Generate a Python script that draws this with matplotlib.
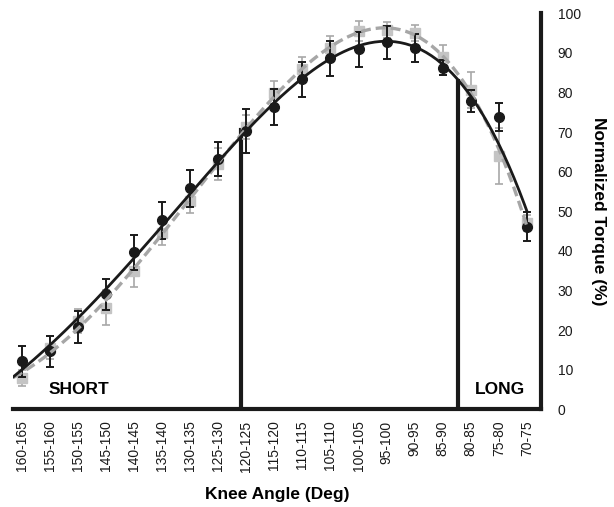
import matplotlib.pyplot as plt
import numpy as np

plt.rcParams["font.family"] = ["Liberation Sans", "DejaVu Sans"]

# knee angle bins, shortest muscle length first
angles = ["160-165", "155-160", "150-155", "145-150", "140-145", "135-140",
          "130-135", "125-130", "120-125", "115-120", "110-115", "105-110",
          "100-105", "95-100", "90-95", "85-90", "80-85", "75-80", "70-75"]

# black circles (solid trendline)
black_mean = [12.1, 14.6, 20.7, 29.0, 39.6, 47.7, 55.8, 63.1, 70.3, 76.4,
              83.3, 88.6, 90.9, 92.7, 91.2, 86.3, 77.8, 73.8, 46.1]
black_err = [4.0, 4.0, 4.0, 3.8, 4.4, 4.6, 4.6, 4.3, 5.5, 4.5,
             4.5, 4.5, 4.5, 4.2, 3.5, 2.0, 2.8, 3.6, 3.7]

# gray squares (dashed trendline)
gray_mean = [8.0, 15.6, 22.3, 25.7, 35.0, 44.6, 52.6, 61.9, 71.2, 80.0,
             85.9, 91.3, 95.5, 95.8, 95.0, 89.0, 80.6, 64.0, 47.0]
gray_err = [2.0, 3.0, 3.0, 4.5, 4.0, 3.0, 3.0, 4.0, 3.0, 3.0,
            3.0, 3.0, 2.5, 2.0, 2.0, 3.0, 4.6, 7.0, 2.0]

x = np.arange(len(angles))

fig = plt.figure(figsize=(6.14, 5.07), dpi=100)
ax = fig.add_axes([12.7 / 614, 1 - 409.3 / 507, (541 - 12.7) / 614, (409.3 - 13.3) / 507])

gray = "#c4c4c4"
ax.errorbar(x, gray_mean, yerr=gray_err, fmt="s", color=gray, ecolor="#a8a8a8",
            ms=7, elinewidth=1.2, capsize=3, capthick=1.2, zorder=2)
ax.errorbar(x, black_mean, yerr=black_err, fmt="o", color="#1a1a1a", ecolor="#1a1a1a",
            ms=7, elinewidth=1.4, capsize=3, capthick=1.4, zorder=3)

# polynomial trendlines (4th order)
xs = np.linspace(-0.3, 18, 200)
pb = np.polyfit(x, black_mean, 4)
pg = np.polyfit(x, gray_mean, 4)
ax.plot(xs, np.polyval(pg, xs), color="#a6a6a6", lw=2.4, ls=(0, (3, 1.5)), zorder=4)
ax.plot(xs, np.polyval(pb, xs), color="#1a1a1a", lw=2.0, zorder=5)

# SHORT / LONG boundaries
ax.axvline(7.83, ymin=0, ymax=0.705, color="#1a1a1a", lw=3, zorder=1)
ax.axvline(15.56, ymin=0, ymax=0.83, color="#1a1a1a", lw=3, zorder=1)
ax.text(0.95, 5, "SHORT", fontsize=12.5, fontweight="bold", va="center")
ax.text(16.15, 5, "LONG", fontsize=12.5, fontweight="bold", va="center")

ax.set_xlim(-0.32, 18.5)
ax.set_ylim(0, 100)
ax.set_xticks(x)
ax.set_xticklabels(angles, rotation=90, fontsize=10)
ax.set_yticks(range(0, 101, 10))
ax.yaxis.tick_right()
ax.yaxis.set_label_position("right")
ax.tick_params(length=0, labelsize=10, colors="#1a1a1a")
ax.tick_params(axis="y", pad=12)
ax.tick_params(axis="x", pad=8)

for s in ["top", "left"]:
    ax.spines[s].set_visible(False)
for s in ["bottom", "right"]:
    ax.spines[s].set_linewidth(3)
    ax.spines[s].set_color("#1a1a1a")

ax.set_xlabel("Knee Angle (Deg)", fontsize=12.5, fontweight="bold", labelpad=11)
ax.set_ylabel("Normalized Torque (%)", fontsize=12.5, fontweight="bold",
              rotation=-90, labelpad=18)

fig.savefig("out.png", dpi=100)
